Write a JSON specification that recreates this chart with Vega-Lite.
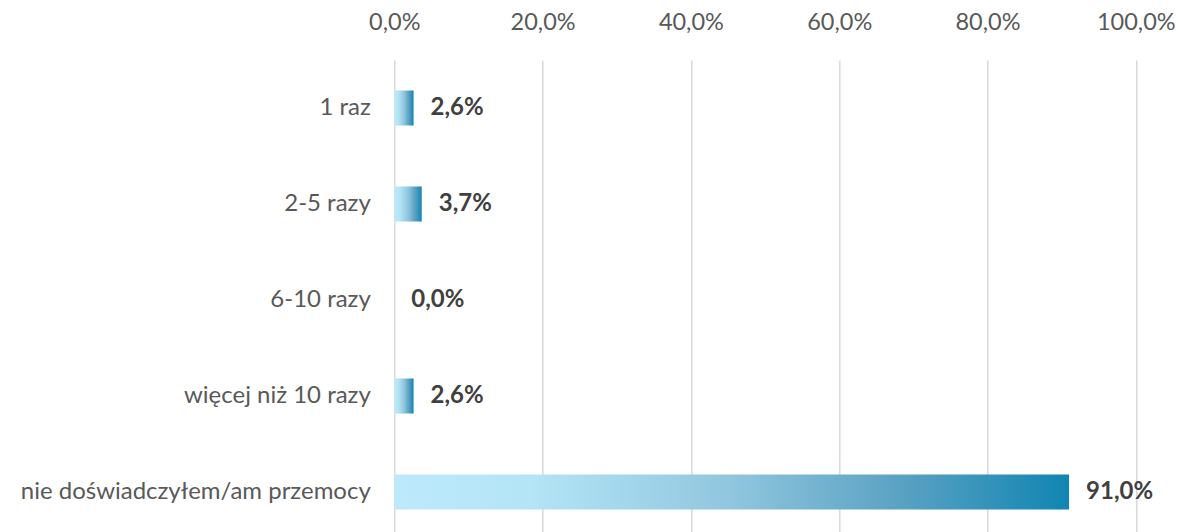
{
  "$schema": "https://vega.github.io/schema/vega-lite/v6.json",
  "autosize": "none",
  "width": 741.5,
  "height": 480,
  "padding": {"left": 394.3, "top": 60, "right": 43, "bottom": 0},
  "background": "white",
  "config": {
    "view": {"stroke": null},
    "font": "Lato",
    "locale": {"number": {"decimal": ",", "thousands": " ", "grouping": [3], "currency": ["", " zł"]}}
  },
  "data": {
    "values": [
      {"kategoria": "1 raz", "wartosc": 0.026},
      {"kategoria": "2-5 razy", "wartosc": 0.037},
      {"kategoria": "6-10 razy", "wartosc": 0.0},
      {"kategoria": "więcej niż 10 razy", "wartosc": 0.026},
      {"kategoria": "nie doświadczyłem/am przemocy", "wartosc": 0.91}
    ]
  },
  "encoding": {
    "y": {
      "field": "kategoria",
      "type": "nominal",
      "sort": null,
      "scale": {"paddingInner": 0.635, "paddingOuter": 0.3175},
      "axis": {
        "title": null,
        "domain": false,
        "ticks": false,
        "labelFont": "Lato",
        "labelFontSize": 24,
        "labelColor": "#595959",
        "labelPadding": 24,
        "labelLimit": 400
      }
    },
    "x": {
      "field": "wartosc",
      "type": "quantitative",
      "scale": {"domain": [0, 1], "nice": false},
      "axis": {
        "orient": "top",
        "title": null,
        "format": ".1%",
        "values": [0, 0.2, 0.4, 0.6, 0.8, 1],
        "domain": false,
        "ticks": false,
        "grid": true,
        "gridColor": "#d9d9d9",
        "gridWidth": 1.5,
        "labelFont": "Lato",
        "labelFontSize": 23.5,
        "labelColor": "#595959",
        "labelPadding": 26,
        "labelFlush": false
      }
    }
  },
  "layer": [
    {
      "mark": {
        "type": "bar",
        "color": {
          "gradient": "linear",
          "x1": 0, "y1": 0, "x2": 1, "y2": 0,
          "stops": [
            {"offset": 0, "color": "#bdeafa"},
            {"offset": 0.2, "color": "#b3e5f6"},
            {"offset": 0.5, "color": "#90c6de"},
            {"offset": 0.75, "color": "#5aa2c3"},
            {"offset": 1, "color": "#1185b2"}
          ]
        }
      }
    },
    {
      "mark": {"type": "text", "align": "left", "baseline": "middle", "dx": 17, "fontWeight": "bold", "fontSize": 24, "font": "Lato", "color": "#404040"},
      "encoding": {"text": {"field": "wartosc", "type": "quantitative", "format": ".1%"}}
    }
  ]
}
